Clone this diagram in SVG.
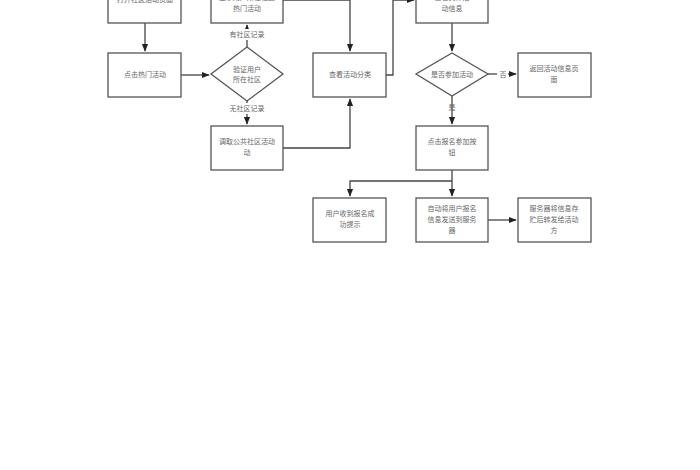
<svg xmlns="http://www.w3.org/2000/svg" width="700" height="470" viewBox="0 0 700 470">
<style>
.b{fill:#fff;stroke:#555;stroke-width:1.3}
.c{fill:none;stroke:#444;stroke-width:1.3}
text{font-family:"Noto Sans CJK SC",sans-serif;font-size:7px;fill:#666;text-anchor:middle}
</style>
<defs><marker id="a" viewBox="0 0 10 10" refX="9" refY="5" markerWidth="6" markerHeight="6" orient="auto"><path d="M0,1 L10,5 L0,9z" fill="#222"/></marker></defs>
<rect width="700" height="470" fill="#fff"/>
<g id="connectors">
<path class="c" d="M145,23 V51" marker-end="url(#a)"/>
<path class="c" d="M181,75 H209" marker-end="url(#a)"/>
<path class="c" d="M247,47 V25" marker-end="url(#a)"/>
<path class="c" d="M247,101 V124" marker-end="url(#a)"/>
<path class="c" d="M283,0 H350 V51" marker-end="url(#a)"/>
<path class="c" d="M283,148 H350 V99" marker-end="url(#a)"/>
<path class="c" d="M386,75 H393 V0 H414" marker-end="url(#a)"/>
<path class="c" d="M452,23 V51" marker-end="url(#a)"/>
<path class="c" d="M488,74 H516" marker-end="url(#a)"/>
<path class="c" d="M452,96 V124" marker-end="url(#a)"/>
<path class="c" d="M452,170 V196" marker-end="url(#a)"/>
<path class="c" d="M452,181 H350 V196" marker-end="url(#a)"/>
<path class="c" d="M488,220 H516" marker-end="url(#a)"/>
</g>
<g id="n1"><rect class="b" x="108" y="-10" width="73" height="33"/><text x="145" y="2">打开社区活动页面</text></g>
<g id="n2"><rect class="b" x="108" y="53" width="73" height="44"/><text x="145" y="77">点击热门活动</text></g>
<g id="d1"><polygon class="b" points="247,47 283,74 247,101 211,74"/><text x="247" y="72">验证用户</text><text x="247" y="82">所在社区</text></g>
<g id="n3"><rect class="b" x="211" y="-10" width="72" height="33"/><text x="247" y="0">显示用户所在社区</text><text x="247" y="11">热门活动</text></g>
<g id="l1"><rect x="226" y="29" width="42" height="11" fill="#fff"/><text x="247" y="37">有社区记录</text></g>
<g id="l2"><rect x="226" y="103" width="42" height="11" fill="#fff"/><text x="247" y="111">无社区记录</text></g>
<g id="n4"><rect class="b" x="211" y="126" width="72" height="44"/><text x="247" y="144">调取公共社区活动</text><text x="247" y="155">动</text></g>
<g id="n5"><rect class="b" x="313" y="53" width="73" height="44"/><text x="350" y="77">查看活动分类</text></g>
<g id="n6"><rect class="b" x="416" y="-10" width="72" height="33"/><text x="452" y="0">查看具体活</text><text x="452" y="11">动信息</text></g>
<g id="d2"><polygon class="b" points="452,53 488,74 452,96 416,74"/><text x="452" y="77">是否参加活动</text></g>
<g id="l3"><rect x="497" y="69" width="11" height="10" fill="#fff"/><text x="503" y="77">否</text></g>
<g id="l4"><text x="452" y="110">是</text></g>
<g id="n7"><rect class="b" x="518" y="53" width="73" height="44"/><text x="554" y="71">返回活动信息页</text><text x="554" y="82">面</text></g>
<g id="n8"><rect class="b" x="416" y="126" width="72" height="44"/><text x="452" y="144">点击报名参加按</text><text x="452" y="155">钮</text></g>
<g id="n9"><rect class="b" x="313" y="198" width="73" height="44"/><text x="350" y="216">用户收到报名成</text><text x="350" y="227">功提示</text></g>
<g id="n10"><rect class="b" x="416" y="198" width="72" height="44"/><text x="452" y="211">自动将用户报名</text><text x="452" y="222">信息发送到服务</text><text x="452" y="233">器</text></g>
<g id="n11"><rect class="b" x="518" y="198" width="73" height="44"/><text x="554" y="211">服务器将信息存</text><text x="554" y="222">贮后转发给活动</text><text x="554" y="233">方</text></g>
</svg>
